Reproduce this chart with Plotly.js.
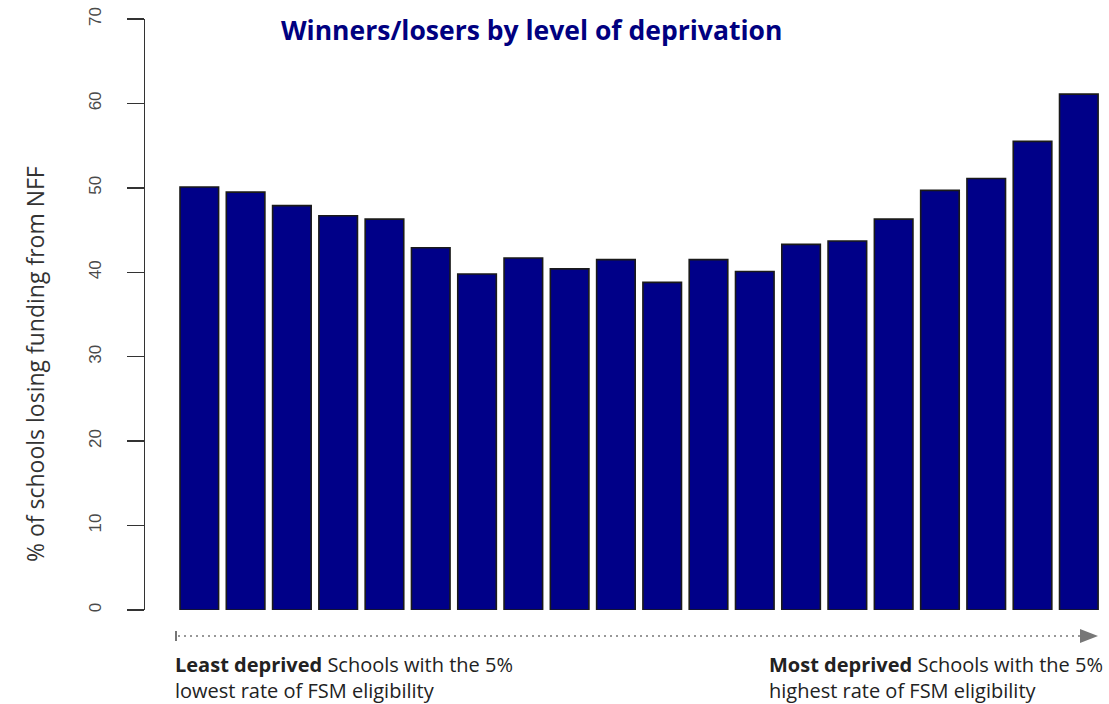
<!DOCTYPE html>
<html>
<head>
<meta charset="utf-8">
<script src="https://cdn.plot.ly/plotly-3.0.1.min.js"></script>
<style>html,body{margin:0;padding:0;background:#fff;}#chart{width:1109px;height:704px;}</style>
</head>
<body>
<div id="chart"></div>
<script>
// Data (20 FSM-eligibility groups, 5% each)
const groups = ["1","2","3","4","5","6","7","8","9","10","11","12","13","14","15","16","17","18","19","20"];
const pctLosing = [50.1, 49.5, 47.9, 46.7, 46.3, 42.9, 39.8, 41.7, 40.4, 41.5, 38.8, 41.5, 40.1, 43.3, 43.7, 46.3, 49.7, 51.1, 55.5, 61.1];
const yTicks = [0, 10, 20, 30, 40, 50, 60, 70];
const titleText = "Winners/losers by level of deprivation";
const yTitleText = "% of schools losing funding from NFF";
const leftNote = "<b>Least deprived</b> Schools with the 5%<br>lowest rate of FSM eligibility";
const rightNote = "<b>Most deprived</b> Schools with the 5%<br>highest rate of FSM eligibility";

// geometry helpers (pixel -> paper)
const L = 145, T = 19, W = 964, H = 591;
const px = x => (x - L) / W;
const py = y => (T + H - y) / H;

const trace = {
  type: 'bar',
  x: groups.map((g, i) => i),
  y: pctLosing,
  marker: { color: '#000088', line: { color: '#1a1a1a', width: 1.6 } },
  hoverinfo: 'y'
};

const layout = {
  width: 1109, height: 704,
  margin: { l: L, r: 1109 - L - W, t: T, b: 704 - T - H, pad: 0 },
  paper_bgcolor: '#fff', plot_bgcolor: '#fff',
  showlegend: false,
  bargap: 0.1667,
  xaxis: {
    range: [-1.173, 19.652], showgrid: false, zeroline: false, showline: false,
    showticklabels: false, ticks: '', fixedrange: true
  },
  yaxis: {
    range: [0, 70], tickvals: yTicks, ticktext: yTicks.map(String),
    showgrid: false, zeroline: false, showline: true, linecolor: '#333', linewidth: 1.5,
    ticks: 'outside', ticklen: 17, tickwidth: 1.5, tickcolor: '#333',
    tickangle: -90, ticklabelstandoff: 19,
    tickfont: { family: 'Liberation Sans, Arial, sans-serif', size: 17, color: '#4a4a4a' }
  },
  annotations: [
    { xref: 'paper', yref: 'paper', x: px(531), y: py(30), xanchor: 'center', yanchor: 'middle',
      text: '<b>' + titleText + '</b>', showarrow: false,
      font: { family: 'Open Sans, sans-serif', size: 26.5, color: '#000080' } },
    { xref: 'paper', yref: 'paper', x: px(35), y: py(364), xanchor: 'center', yanchor: 'middle',
      text: yTitleText, textangle: -90, showarrow: false,
      font: { family: 'Open Sans, sans-serif', size: 23, color: '#333' } },
    { xref: 'paper', yref: 'paper', x: px(173), y: py(649), xanchor: 'left', yanchor: 'top', align: 'left',
      text: leftNote, showarrow: false,
      font: { family: 'Open Sans, sans-serif', size: 20, color: '#222' } },
    { xref: 'paper', yref: 'paper', x: px(767), y: py(649), xanchor: 'left', yanchor: 'top', align: 'left',
      text: rightNote, showarrow: false,
      font: { family: 'Open Sans, sans-serif', size: 20, color: '#222' } }
  ],
  shapes: [
    { type: 'line', xref: 'paper', yref: 'paper', x0: px(178), x1: px(1080), y0: py(636), y1: py(636),
      line: { color: '#777', width: 1.5, dash: '2px,4px' } },
    { type: 'line', xref: 'paper', yref: 'paper', x0: px(176), x1: px(176), y0: py(631), y1: py(641),
      line: { color: '#666', width: 1.8 } },
    { type: 'path', xref: 'paper', yref: 'paper',
      path: 'M ' + px(1080) + ' ' + py(629) + ' L ' + px(1098) + ' ' + py(636) + ' L ' + px(1080) + ' ' + py(643) + ' Z',
      fillcolor: '#777', line: { color: '#777', width: 0 } }
  ]
};

Plotly.newPlot('chart', [trace], layout, { displayModeBar: false, staticPlot: true });
</script>
</body>
</html>
